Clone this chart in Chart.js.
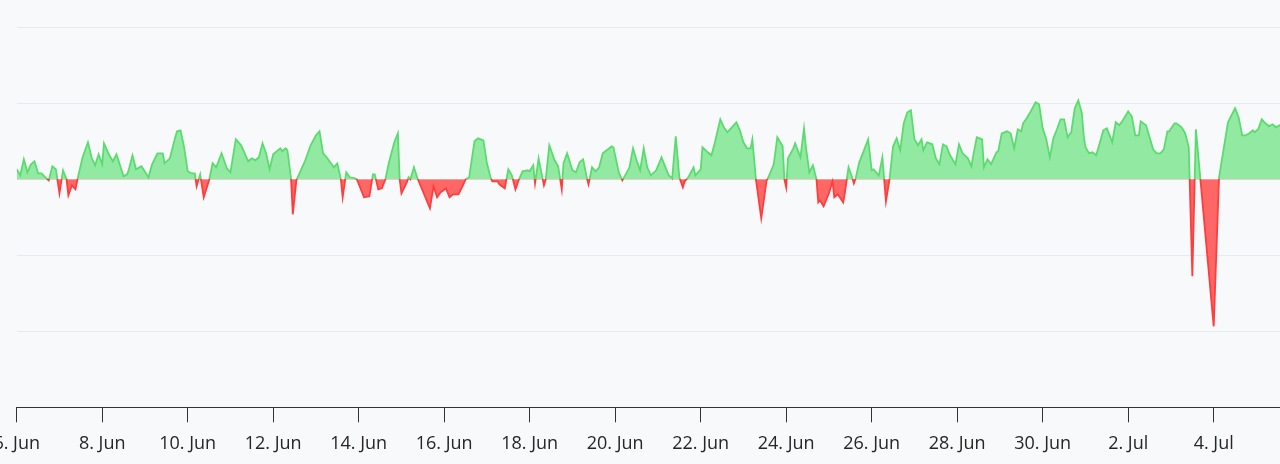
<!DOCTYPE html>
<html>
<head>
<meta charset="utf-8">
<script src="https://cdn.jsdelivr.net/npm/chart.js@4.4.1/dist/chart.umd.min.js"></script>
<style>
  html, body { margin: 0; padding: 0; background: #f8f9fb; overflow: hidden; }
  #wrap { position: absolute; left: 0; top: 0; width: 1320px; height: 464px; }
</style>
</head>
<body>
<div id="wrap"><canvas id="chart"></canvas></div>
<script>
// hours since 6 Jun 00:00
const hours = [
  0, 2, 4, 6, 8, 10, 12, 14, 16, 18, 20, 22, 24, 26, 28, 29, 31, 33, 34, 37, 40, 42, 44, 46, 48, 49, 52, 54, 56, 60, 62, 63, 65, 67, 70, 74, 76, 79, 82, 83, 86, 89, 90, 92, 94, 96, 98, 100, 101, 103, 105, 108, 110, 112,
  115, 118, 120, 123, 126, 130, 132, 134, 136, 138, 140, 142, 144, 148, 149, 151, 152, 154, 155, 157, 160, 162, 165, 168, 170, 172, 174, 176, 178, 180, 182, 183, 185, 187, 190, 191, 195, 198, 200, 201, 203, 205, 207, 209, 212, 214, 215, 216, 219, 220, 221, 223, 225,
  232, 234, 236, 238, 241, 243, 245, 248, 250, 252, 254, 257, 259, 262, 264, 266, 267, 270, 271, 274, 276, 278, 280, 282, 284, 287, 288, 290, 291, 293, 296, 297, 299, 302, 304, 306, 307, 309, 312, 314, 316, 318, 320, 321, 323, 325, 327, 329, 332, 334, 335, 338, 340, 341, 344, 346, 348, 350,
  352, 354, 356, 359, 362, 364, 366, 368, 370, 372, 374, 375, 377, 380, 381, 384, 385, 388, 390, 392, 395, 397, 399, 401, 404, 406, 408, 410, 412, 413, 415, 418, 421, 422, 425, 427, 430, 431, 432, 433, 436, 437, 440, 442, 443, 445, 447, 449, 450, 451, 453, 456, 458, 459, 461, 464, 465, 466, 467,
  469, 470, 471, 473, 475, 478, 480, 481, 484, 486, 487, 488, 490, 492, 494, 496, 498, 500, 502, 504, 506, 508, 509, 511, 514, 516, 518, 520, 522, 524, 526, 527, 529, 531, 534, 536, 537, 539, 542, 543, 545, 547, 550, 551, 553, 556, 558, 560, 562, 564, 565, 567, 569, 572, 574, 576, 578, 580, 582, 584,
  586, 588, 590, 592, 594, 596, 598, 599, 600, 602, 604, 606, 608, 610, 612, 614, 615, 617, 619, 621, 624, 626, 628, 630, 631, 634, 636, 638, 640, 642, 644, 646, 647, 650, 651, 654, 656, 658, 660, 662, 672, 675, 680, 684, 686, 688, 690, 692, 694, 695, 697, 699, 701, 703, 705, 707, 709, 712
];

const values = [
  10, 4, 20, 7, 15, 18, 6, 6, 2, -1, 13, 10, -14, 9, 0, -16, -6, -10, -1, 22, 37, 22, 14, 25, 15, 36, 24, 18, 25, 3, 5, 10, 24, 10, 13, 2, 15, 26, 26, 16, 21, 42, 48, 49, 32, 8, 6, 6, -7, 5, -18, -1, 16, 12,
  26, 11, 7, 40, 34, 18, 21, 19, 22, 36, 26, 10, 25, 31, 28, 31, 29, 1, -35, -1, 11, 19, 34, 44, 48, 26, 22, 17, 12, 16, 0, -18, 7, 2, 1, 0, -18, -17, 5, 5, -10, -9, 0, 17, 37, 46, 0, -14, -3, 2, 0, 12, 1,
  -29, -7, -18, -13, -9, -18, -15, -15, -8, 0, 2, 38, 41, 39, 16, 2, -2, -2, -5, -9, 10, 4, -10, 0, 8, 9, 8, 14, -4, 21, -6, 0, 34, 19, 13, -10, 16, 26, 9, 7, 17, 20, 2, -5, 12, 8, 12, 26, 30, 33, 32, 7, -1, 2, 12, 31, 19, 9,
  31, 12, 4, 9, 22, 13, 4, 1, 43, 2, -8, -2, 2, 12, 4, 10, 32, 27, 24, 37, 60, 52, 47, 51, 57, 49, 37, 31, 31, 40, 0, -39, -1, 2, 15, 42, 33, 0, -8, 21, 31, 36, 22, 51, 33, 7, 14, 0, -23, -21, -27, -14, -2, -18, -15, -23, -13, 0, 12,
  2, -4, 1, 17, 26, 40, 9, 10, 4, 22, 0, -22, 0, 33, 41, 29, 56, 67, 69, 40, 34, 40, 29, 37, 35, 21, 15, 35, 33, 24, 18, 15, 35, 26, 21, 13, 24, 42, 40, 12, 20, 15, 27, 28, 46, 48, 46, 31, 50, 48, 56, 61, 67, 77, 75, 51, 40, 22, 41, 50,
  60, 60, 42, 47, 71, 79, 66, 44, 32, 26, 27, 24, 36, 49, 51, 42, 37, 57, 54, 59, 68, 63, 44, 44, 58, 54, 42, 30, 26, 26, 30, 48, 48, 56, 56, 52, 46, 32, -97, 50, -147, 2, 57, 71, 62, 44, 44, 46, 49, 47, 50, 60, 56, 53, 55, 52, 54, 53
];

const months = ['Jan', 'Feb', 'Mar', 'Apr', 'May', 'Jun', 'Jul', 'Aug', 'Sep', 'Oct', 'Nov', 'Dec'];
const startDay = new Date(2024, 5, 6);

const green = '#5bdb6f';
const greenFill = '#91e9a2';
const red = '#ff3d3d';
const redFill = '#ff6666';

const points = hours.map((h, i) => ({ x: h, y: values[i] }));

// line colour switches exactly at zero
const lineColor = (context) => {
  const chart = context.chart;
  const area = chart.chartArea;
  if (!area) return green;
  const zero = chart.scales.y.getPixelForValue(0);
  const stop = Math.min(Math.max((zero - area.top) / (area.bottom - area.top), 0), 1);
  const g = chart.ctx.createLinearGradient(0, area.top, 0, area.bottom);
  g.addColorStop(0, green);
  g.addColorStop(stop, green);
  g.addColorStop(stop, red);
  g.addColorStop(1, red);
  return g;
};

const dayLabel = (value) => {
  const d = new Date(startDay.getFullYear(), startDay.getMonth(), startDay.getDate() + Math.round(value / 24));
  return d.getDate() + '. ' + months[d.getMonth()];
};

new Chart(document.getElementById('chart'), {
  type: 'line',
  data: {
    datasets: [{
      data: points,
      borderColor: lineColor,
      borderWidth: 1.8,
      pointRadius: 0,
      tension: 0,
      fill: { target: 'origin', above: greenFill, below: redFill },
    }],
  },
  options: {
    responsive: true,
    maintainAspectRatio: false,
    animation: false,
    layout: { padding: { left: 16.7, right: 20.8, top: 27.3, bottom: 0 } },
    plugins: {
      legend: { display: false },
      tooltip: { enabled: false },
    },
    scales: {
      x: {
        type: 'linear',
        min: 0,
        max: 720,
        grid: { drawOnChartArea: false, drawTicks: true, tickLength: 15, color: '#333', lineWidth: 1 },
        border: { display: true, color: '#333', width: 1 },
        ticks: {
          stepSize: 48,
          padding: 11,
          color: '#262626',
          font: { family: 'Open Sans', size: 18 },
          maxRotation: 0,
          autoSkip: false,
          callback: (value) => dayLabel(value),
        },
        afterFit: (axis) => {
          axis.paddingLeft = 0;
          axis.paddingRight = 0;
          axis.height = 56.7;
        },
      },
      y: {
        min: -228,
        max: 152,
        grid: { color: '#e6ebf1', drawTicks: false },
        border: { display: false },
        ticks: { display: false, stepSize: 76 },
        afterFit: (axis) => { axis.width = 0; },
      },
    },
  },
});
</script>
</body>
</html>
